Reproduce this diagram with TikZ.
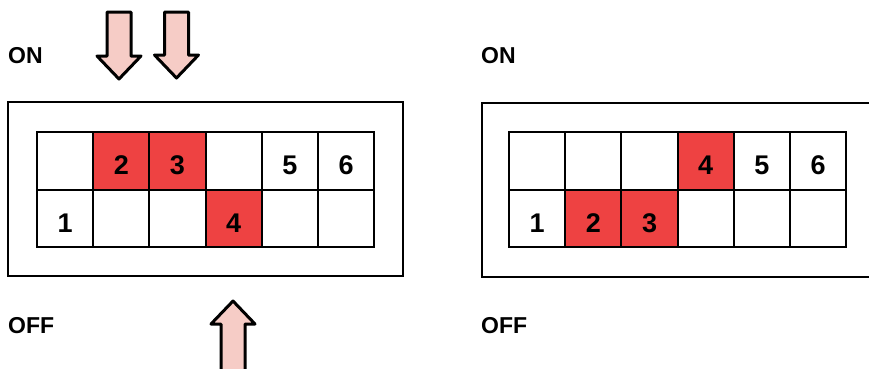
\documentclass[tikz,border=0pt]{standalone}
\usepackage{fontspec}
\setmainfont{Liberation Sans}
\usetikzlibrary{positioning}
\definecolor{swred}{RGB}{238,66,66}
\definecolor{swpink}{RGB}{246,204,198}

\tikzset{
  blockarrow/.pic={
    \draw[line width=3pt, line join=round, fill=swpink]
      (-12,-#1) -- (12,-#1) -- (12,-23) -- (22,-23) -- (0,0)
      -- (-22,-23) -- (-12,-23) -- cycle;
  }
}

\begin{document}
\begin{tikzpicture}[x=1pt, y=-1pt,
  frame/.style={draw, line width=2pt, minimum width=395pt, minimum height=174pt, inner sep=0pt},
  cell/.style={draw, line width=2pt, fill=white, minimum width=56.2pt, minimum height=57.5pt,
    inner sep=0pt, text height=27pt, text depth=0pt,
    font=\fontsize{27}{27}\selectfont\bfseries},
  lbl/.style={anchor=west, inner sep=0pt, font=\fontsize{23}{23}\selectfont\bfseries}
]
  \useasboundingbox (0,0) rectangle (869,368);
  \clip (0,0) rectangle (869,368);

  % labels
  \node[lbl] (Lon) at (8,56) {ON};
  \node[lbl] (Loff) at (8,326) {OFF};
  \node[lbl] (Ron) at (481,56) {ON};
  \node[lbl] (Roff) at (481,326) {OFF};

  % housings
  \node[frame] (Lframe) at (205.5,189) {};
  \node[frame] (Rframe) at (679.5,189.5) {};

  % left switch: 2 and 3 going on, 4 going off
  \foreach \n/\state/\col in {1/off/white,2/on/swred,3/on/swred,4/off/swred,5/on/white,6/on/white}{
    \node[cell] (L\n on) at ({65.1+56.2*(\n-1)},161) {};
    \node[cell] (L\n off) at ({65.1+56.2*(\n-1)},218.5) {};
    \node[cell, fill=\col] (L\n) at (L\n \state) {\n};
  }

  % right switch: result
  \foreach \n/\state/\col in {1/off/white,2/off/swred,3/off/swred,4/on/swred,5/on/white,6/on/white}{
    \node[cell] (R\n on) at ({537.1+56.2*(\n-1)},161) {};
    \node[cell] (R\n off) at ({537.1+56.2*(\n-1)},218.5) {};
    \node[cell, fill=\col] (R\n) at (R\n \state) {\n};
  }

  % push arrows
  \pic at (119,79) {blockarrow=67};
  \pic at (176.5,78) {blockarrow=66};
  \pic[rotate=180] at (233,301) {blockarrow=80};
\end{tikzpicture}
\end{document}
